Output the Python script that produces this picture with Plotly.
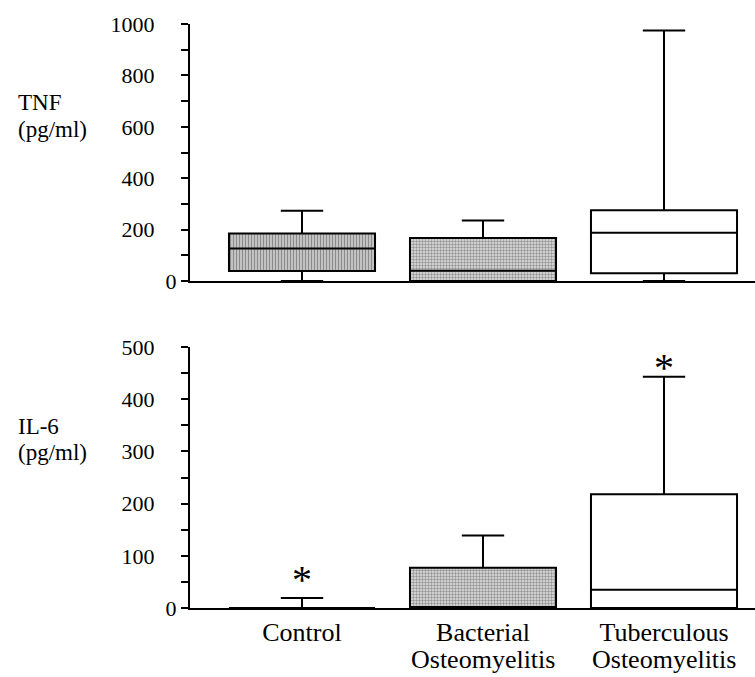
import plotly.graph_objects as go

# ---- data ----
cat_line1 = ["Control", "Bacterial", "Tuberculous"]
cat_line2 = ["", "Osteomyelitis", "Osteomyelitis"]
cat_pos = [0, 1, 2]

tnf_lower = [0, 0, 0]
tnf_q1 = [39, 0, 30]
tnf_median = [126, 40, 188]
tnf_q3 = [185, 167, 275]
tnf_upper = [273, 235, 975]

il6_lower = [0, 0, 0]
il6_q1 = [0, 0, 0]
il6_median = [0, 0, 35]
il6_q3 = [0, 77, 218]
il6_upper = [19, 139, 443]

il6_star_x = [0, 2]
il6_star_y = [47, 455]
star_text = ["*", "*"]

tnf_tickvals = [0, 100, 200, 300, 400, 500, 600, 700, 800, 900, 1000]
tnf_ticktext = ["0", "", "200", "", "400", "", "600", "", "800", "", "1000"]
il6_tickvals = [0, 50, 100, 150, 200, 250, 300, 350, 400, 450, 500]
il6_ticktext = ["0", "", "100", "", "200", "", "300", "", "400", "", "500"]

NB = "\u00a0" * 4
tnf_ticktext = [t if t in ("0", "") else t + NB for t in tnf_ticktext]
il6_ticktext = [t if t in ("0", "") else t + NB for t in il6_ticktext]

FONT = "Liberation Serif"
BW = 0.807

pattern_shapes = ["|", ".", ""]
pattern_fg = ["#000000", "#707070", "#ffffff"]
pattern_bg = ["#d4d4d4", "#e2e2e2", "#ffffff"]

fig = go.Figure()

def add_panel(q1, med, q3, lo, hi, xa, ya):
    fig.add_trace(go.Bar(
        x=cat_pos, y=[b - a for a, b in zip(q1, q3)], base=q1, width=BW,
        marker=dict(color=pattern_bg, line=dict(width=0),
                    pattern=dict(shape=pattern_shapes, fgcolor=pattern_fg,
                                 bgcolor=pattern_bg, size=3, solidity=0.5,
                                 fillmode="overlay")),
        xaxis=xa, yaxis=ya, showlegend=False, hoverinfo="skip"))
    fig.add_trace(go.Box(
        x=cat_pos, q1=q1, median=med, q3=q3, lowerfence=lo, upperfence=hi,
        width=BW, whiskerwidth=0.29, fillcolor="rgba(0,0,0,0)",
        line=dict(color="black", width=2),
        xaxis=xa, yaxis=ya, showlegend=False, hoverinfo="skip"))

add_panel(tnf_q1, tnf_median, tnf_q3, tnf_lower, tnf_upper, "x", "y")
add_panel(il6_q1, il6_median, il6_q3, il6_lower, il6_upper, "x2", "y2")

fig.add_trace(go.Scatter(
    x=il6_star_x, y=il6_star_y, mode="text", text=star_text,
    textfont=dict(family=FONT, size=40, color="black"),
    textposition="middle center", xaxis="x2", yaxis="y2",
    showlegend=False, hoverinfo="skip"))

H = 677
xrange = [-112 / 181, 453 / 181]
tick_font = dict(family=FONT, size=22, color="black")
cat_font = dict(family=FONT, size=26, color="black")
title_font = dict(family=FONT, size=23, color="black")

annotations = []
for px, t in zip(cat_pos, cat_line2):
    if t:
        annotations.append(dict(text=t, xref="x2", yref="paper", x=px,
                                y=1 - 659 / H, xanchor="center", yanchor="middle",
                                showarrow=False, font=cat_font))
title_lines = [("TNF", 102), ("(pg/ml)", 129), ("IL-6", 426), ("(pg/ml)", 453)]
for t, yy in title_lines:
    annotations.append(dict(text=t, xref="paper", yref="paper",
                            x=(16 - 190) / 565, y=1 - yy / H, xanchor="left",
                            yanchor="middle", showarrow=False, font=title_font))

fig.update_layout(
    width=755, height=677,
    margin=dict(l=190, r=0, t=0, b=0, autoexpand=False),
    paper_bgcolor="white", plot_bgcolor="white",
    barmode="overlay", boxmode="overlay",
    font=tick_font,
    xaxis=dict(domain=[0, 1], range=xrange, anchor="y", showticklabels=False,
               showline=True, linecolor="black", linewidth=2, ticks="",
               showgrid=False, zeroline=False, automargin=False),
    yaxis=dict(domain=[(H - 281) / H, (H - 24) / H], range=[0, 1000],
               anchor="x", tickvals=tnf_tickvals, ticktext=tnf_ticktext,
               ticks="outside", ticklen=7, tickwidth=2, tickcolor="black",
               showline=True, linecolor="black", linewidth=2,
               showgrid=False, zeroline=False, tickfont=tick_font,
               automargin=False),
    xaxis2=dict(domain=[0, 1], range=xrange, anchor="y2",
                tickvals=cat_pos, ticktext=cat_line1, ticks="",
                showline=True, linecolor="black", linewidth=2,
                showgrid=False, zeroline=False, tickfont=cat_font,
                ticklabelstandoff=0, automargin=False),
    yaxis2=dict(domain=[(H - 608) / H, (H - 347) / H], range=[0, 500],
                anchor="x2", tickvals=il6_tickvals, ticktext=il6_ticktext,
                ticks="outside", ticklen=7, tickwidth=2, tickcolor="black",
                showline=True, linecolor="black", linewidth=2,
                showgrid=False, zeroline=False, tickfont=tick_font,
                automargin=False),
    annotations=annotations,
)

fig.write_html("out.html", config={"displayModeBar": False},
               post_script="document.body.style.margin='0';")
